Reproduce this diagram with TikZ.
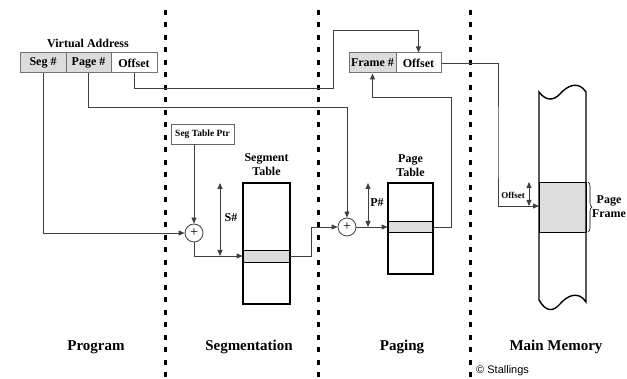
\documentclass[tikz,border=0pt]{standalone}
\usepackage{fontspec}
\setmainfont{Liberation Serif}
\setsansfont{Liberation Sans}
\usetikzlibrary{arrows.meta,decorations.pathreplacing}
\definecolor{band}{RGB}{220,220,220}
\tikzset{
  conn/.style={draw=black!75,line width=0.8pt},
  tip/.style={-{Triangle[length=6pt,width=5pt]}},
  both/.style={{Triangle[length=6pt,width=5pt]}-{Triangle[length=6pt,width=5pt]}},
  divider/.style={line width=3pt,dash pattern=on 5pt off 7.5pt},
  label/.style={font=\bfseries\fontsize{12}{14}\selectfont,inner sep=0pt},
  field/.style={label,draw=black!55,line width=1pt,minimum height=20pt},
  ptrbox/.style={draw=black!60,line width=0.8pt,font=\bfseries\fontsize{9.5}{11}\selectfont,
    minimum width=63pt,minimum height=20pt,inner sep=0pt},
  adder/.style={circle,draw=black!75,line width=0.8pt,minimum size=18pt,inner sep=0pt,
    font=\fontsize{14}{16}\selectfont},
  tablebox/.style={draw,line width=1.6pt,inner sep=0pt},
  rowband/.style={draw,fill=band,line width=0.8pt,inner sep=0pt},
  section/.style={font=\bfseries\fontsize{15}{18}\selectfont,inner sep=0pt}
}
\begin{document}
\begin{tikzpicture}[x=1pt,y=-1pt]
\useasboundingbox (0,0) rectangle (627,379);
\clip (0,0) rectangle (627,379);

\foreach \x in {165,318,470}
  \draw[divider] (\x,10) -- (\x,379);

% virtual address and frame address
\node[label] (va) at (88,43) {Virtual Address};
\node[field,fill=band,minimum width=46pt] (seg) at (43,63) {Seg \#};
\node[field,fill=band,minimum width=45pt] (page) at (88.5,63) {Page \#};
\node[field,minimum width=46pt] (off) at (134,63) {Offset};
\node[field,fill=band,minimum width=47pt] (frame) at (372.5,63) {Frame \#};
\node[field,minimum width=45pt] (foff) at (418.5,63) {Offset};

\node[ptrbox] (ptr) at (202.5,134) {Seg Table Ptr};
\node[adder] (sum1) at (194,233) {+};
\node[adder] (sum2) at (347,227) {+};

% segment table
\node[rowband,minimum width=47pt,minimum height=12pt] (segrow) at (266.5,256) {};
\node[tablebox,minimum width=47pt,minimum height=121pt] (segtab) at (266.5,243.5) {};
\node[label,align=center] (segcap) at (266.5,165) {Segment\\Table};
\draw[conn,both] (220,183) -- (220,256);
\node[label] (snum) at (231,218) {S\#};

% page table
\node[rowband,minimum width=45pt,minimum height=11pt] (pagerow) at (410.5,227) {};
\node[tablebox,minimum width=45pt,minimum height=91pt] (pagetab) at (410.5,228.5) {};
\node[label,align=center] (pagecap) at (410.5,166) {Page\\Table};
\draw[conn,both] (368,183) -- (368,227);
\node[label] (pnum) at (377,203) {P\#};

% main memory
\draw[line width=0.8pt,fill=band] (539,182) rectangle (586,232);
\draw[line width=1.4pt] (539,92) .. controls (546,101) and (553,101) .. (560,94)
  .. controls (567,86) and (578,80) .. (586,92) -- (586,302)
  .. controls (578,290) and (567,296) .. (560,304)
  .. controls (553,312) and (546,312) .. (539,300) -- cycle;
\coordinate (memin) at (539,206);
\draw[conn,both] (529,182) -- (529,206);
\node[label,font=\bfseries\fontsize{9}{11}\selectfont] (moff) at (513,195) {Offset};
\draw[line width=0.6pt,decorate,decoration={brace,amplitude=4pt}] (588,182) -- (588,232);
\node[label,align=center] (pframe) at (609,207) {Page\\Frame};

% connectors
\draw[conn,tip] (seg.south) |- (sum1.west);
\draw[conn,tip] (page.south) |- (sum2.north |- 0,107) -- (sum2.north);
\draw[conn,tip] (off.south) |- (333,88) |- (foff.north |- 0,30) -- (foff.north);
\draw[conn,tip] (ptr.south -| sum1.north) -- (sum1.north);
\draw[conn,tip] (sum1.south) |- (segrow.west);
\draw[conn,tip] (segrow.east) -- ++(21,0) |- (sum2.west);
\draw[conn,tip] (sum2.east) -- (pagerow.west);
\draw[conn,tip] (pagerow.east) -- ++(18,0) |- (frame.south |- 0,97) -- (frame.south);
\draw[conn,tip] (foff.east) -| (498,150) |- (memin);

\node[section] (prog) at (96,347) {Program};
\node[section] (segm) at (249,347) {Segmentation};
\node[section] (pgng) at (402,347) {Paging};
\node[section] (mmem) at (556,347) {Main Memory};
\node[anchor=base west,inner sep=0pt,font=\sffamily\fontsize{11}{13}\selectfont] (credit) at (476,374) {© Stallings};
\end{tikzpicture}
\end{document}
